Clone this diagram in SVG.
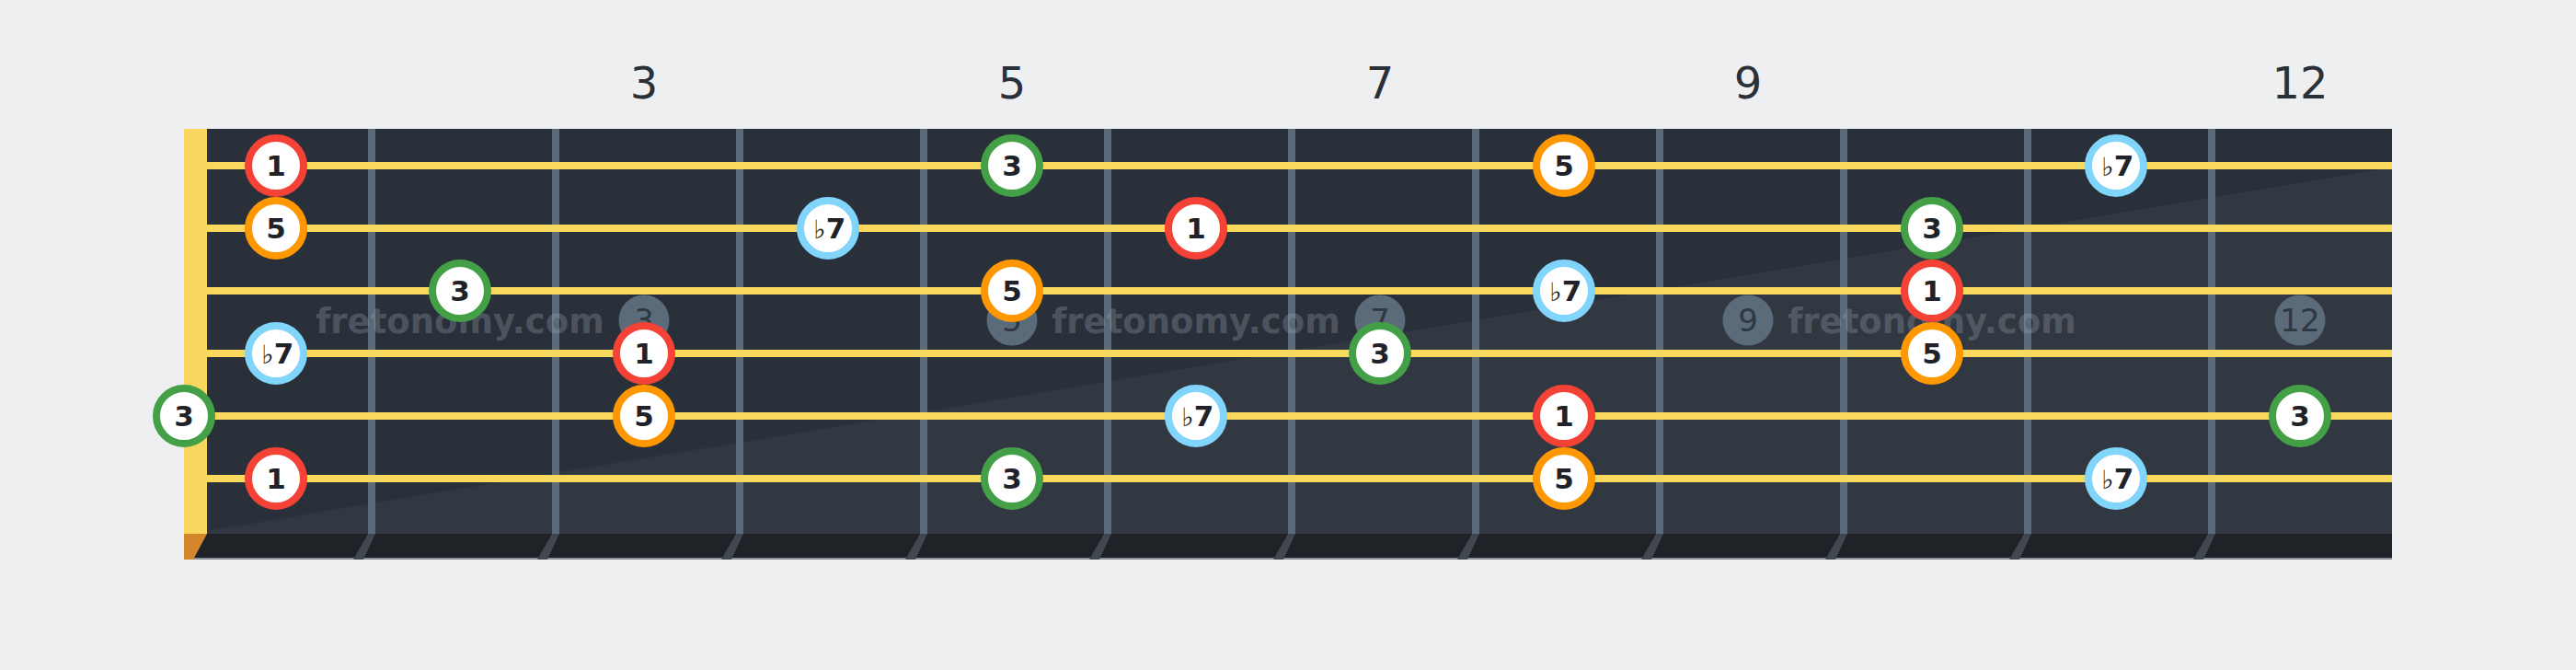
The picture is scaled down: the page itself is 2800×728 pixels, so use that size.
<svg xmlns="http://www.w3.org/2000/svg" width="2800" height="728" viewBox="0 0 2800 728">
<style>
.fn{font-family:"DejaVu Sans","Noto Sans",sans-serif;font-size:48px;fill:#2a3038;text-anchor:middle}
.fret{fill:#5a6a7a}
.sh{fill:#41474e}
.str{fill:#f9d85e}
.mk circle{fill:#5b6b7a}
.mk text{font-family:"DejaVu Sans","Noto Sans",sans-serif;font-size:34px;fill:#2e3742;text-anchor:middle}
.wm{font-family:"DejaVu Sans","Noto Sans",sans-serif;font-weight:bold;font-size:37px;fill:#a6adb4;fill-opacity:0.3;text-anchor:middle}
.n circle{fill:#ffffff;stroke-width:8}
.n text{font-family:"DejaVu Sans","Noto Sans",sans-serif;font-weight:bold;font-size:31px;fill:#1f2329;text-anchor:middle}
.n tspan.fl{font-weight:normal;font-size:28px}
.r circle{stroke:#f44336}
.o circle{stroke:#ff9800}
.g circle{stroke:#43a047}
.b circle{stroke:#81d4fa}
</style>
<rect width="2800" height="728" fill="#eeeff1"/>
<g id="fret-numbers">
<text class="fn" x="700" y="107">3</text>
<text class="fn" x="1100" y="107">5</text>
<text class="fn" x="1500" y="107">7</text>
<text class="fn" x="1900" y="107">9</text>
<text class="fn" x="2500" y="107">12</text>
</g>
<g id="fretboard">
<rect x="200" y="140" width="2400" height="440" fill="#29303a"/>
<polygon points="225,577 2600,182 2600,580 225,580" fill="#ffffff" fill-opacity="0.045"/>
<rect x="200" y="580" width="2400" height="26" fill="#1f2327"/>
<rect x="200" y="606" width="2400" height="2" fill="#858e97"/>
<g id="frets">
<rect class="fret" x="400" y="140" width="8" height="440"/>
<rect class="fret" x="600" y="140" width="8" height="440"/>
<rect class="fret" x="800" y="140" width="8" height="440"/>
<rect class="fret" x="1000" y="140" width="8" height="440"/>
<rect class="fret" x="1200" y="140" width="8" height="440"/>
<rect class="fret" x="1400" y="140" width="8" height="440"/>
<rect class="fret" x="1600" y="140" width="8" height="440"/>
<rect class="fret" x="1800" y="140" width="8" height="440"/>
<rect class="fret" x="2000" y="140" width="8" height="440"/>
<rect class="fret" x="2200" y="140" width="8" height="440"/>
<rect class="fret" x="2400" y="140" width="8" height="440"/>
</g>
<g id="fret-shadows">
<polygon class="sh" points="400,580 408,580 395,608 384,608"/>
<polygon class="sh" points="600,580 608,580 595,608 584,608"/>
<polygon class="sh" points="800,580 808,580 795,608 784,608"/>
<polygon class="sh" points="1000,580 1008,580 995,608 984,608"/>
<polygon class="sh" points="1200,580 1208,580 1195,608 1184,608"/>
<polygon class="sh" points="1400,580 1408,580 1395,608 1384,608"/>
<polygon class="sh" points="1600,580 1608,580 1595,608 1584,608"/>
<polygon class="sh" points="1800,580 1808,580 1795,608 1784,608"/>
<polygon class="sh" points="2000,580 2008,580 1995,608 1984,608"/>
<polygon class="sh" points="2200,580 2208,580 2195,608 2184,608"/>
<polygon class="sh" points="2400,580 2408,580 2395,608 2384,608"/>
</g>
</g>
<g id="markers">
<g class="mk" id="marker-3"><circle cx="700" cy="348" r="27.5"/><text x="700" y="360">3</text></g>
<g class="mk" id="marker-5"><circle cx="1100" cy="348" r="27.5"/><text x="1100" y="360">5</text></g>
<g class="mk" id="marker-7"><circle cx="1500" cy="348" r="27.5"/><text x="1500" y="360">7</text></g>
<g class="mk" id="marker-9"><circle cx="1900" cy="348" r="27.5"/><text x="1900" y="360">9</text></g>
<g class="mk" id="marker-12"><circle cx="2500" cy="348" r="27.5"/><text x="2500" y="360">12</text></g>
</g>
<g id="watermark">
<text class="wm" x="500" y="362">fretonomy.com</text>
<text class="wm" x="1300" y="362">fretonomy.com</text>
<text class="wm" x="2100" y="362">fretonomy.com</text>
</g>
<g id="strings">
<rect class="str" x="225" y="176" width="2375" height="8"/>
<rect class="str" x="225" y="244" width="2375" height="8"/>
<rect class="str" x="225" y="312" width="2375" height="8"/>
<rect class="str" x="225" y="380" width="2375" height="8"/>
<rect class="str" x="225" y="448" width="2375" height="8"/>
<rect class="str" x="225" y="516" width="2375" height="8"/>
</g>
<g id="nut">
<rect x="200" y="140" width="25" height="440" fill="#f9d75f"/>
<polygon points="200,580 225,580 210,608 200,608" fill="#d4862a"/>
</g>
<g id="notes">
<g class="n r" id="s1-f1"><circle cx="300" cy="180" r="30"/><text x="300" y="191">1</text></g>
<g class="n g" id="s1-f5"><circle cx="1100" cy="180" r="30"/><text x="1100" y="191">3</text></g>
<g class="n o" id="s1-f8"><circle cx="1700" cy="180" r="30"/><text x="1700" y="191">5</text></g>
<g class="n b" id="s1-f11"><circle cx="2300" cy="180" r="30"/><text x="2302" y="191"><tspan class="fl">♭</tspan>7</text></g>

<g class="n o" id="s2-f1"><circle cx="300" cy="248" r="30"/><text x="300" y="259">5</text></g>
<g class="n b" id="s2-f4"><circle cx="900" cy="248" r="30"/><text x="902" y="259"><tspan class="fl">♭</tspan>7</text></g>
<g class="n r" id="s2-f6"><circle cx="1300" cy="248" r="30"/><text x="1300" y="259">1</text></g>
<g class="n g" id="s2-f10"><circle cx="2100" cy="248" r="30"/><text x="2100" y="259">3</text></g>

<g class="n g" id="s3-f2"><circle cx="500" cy="316" r="30"/><text x="500" y="327">3</text></g>
<g class="n o" id="s3-f5"><circle cx="1100" cy="316" r="30"/><text x="1100" y="327">5</text></g>
<g class="n b" id="s3-f8"><circle cx="1700" cy="316" r="30"/><text x="1702" y="327"><tspan class="fl">♭</tspan>7</text></g>
<g class="n r" id="s3-f10"><circle cx="2100" cy="316" r="30"/><text x="2100" y="327">1</text></g>

<g class="n b" id="s4-f1"><circle cx="300" cy="384" r="30"/><text x="302" y="395"><tspan class="fl">♭</tspan>7</text></g>
<g class="n r" id="s4-f3"><circle cx="700" cy="384" r="30"/><text x="700" y="395">1</text></g>
<g class="n g" id="s4-f7"><circle cx="1500" cy="384" r="30"/><text x="1500" y="395">3</text></g>
<g class="n o" id="s4-f10"><circle cx="2100" cy="384" r="30"/><text x="2100" y="395">5</text></g>

<g class="n g" id="s5-f0"><circle cx="200" cy="452" r="30"/><text x="200" y="463">3</text></g>
<g class="n o" id="s5-f3"><circle cx="700" cy="452" r="30"/><text x="700" y="463">5</text></g>
<g class="n b" id="s5-f6"><circle cx="1300" cy="452" r="30"/><text x="1302" y="463"><tspan class="fl">♭</tspan>7</text></g>
<g class="n r" id="s5-f8"><circle cx="1700" cy="452" r="30"/><text x="1700" y="463">1</text></g>
<g class="n g" id="s5-f12"><circle cx="2500" cy="452" r="30"/><text x="2500" y="463">3</text></g>

<g class="n r" id="s6-f1"><circle cx="300" cy="520" r="30"/><text x="300" y="531">1</text></g>
<g class="n g" id="s6-f5"><circle cx="1100" cy="520" r="30"/><text x="1100" y="531">3</text></g>
<g class="n o" id="s6-f8"><circle cx="1700" cy="520" r="30"/><text x="1700" y="531">5</text></g>
<g class="n b" id="s6-f11"><circle cx="2300" cy="520" r="30"/><text x="2302" y="531"><tspan class="fl">♭</tspan>7</text></g>
</g>
</svg>
